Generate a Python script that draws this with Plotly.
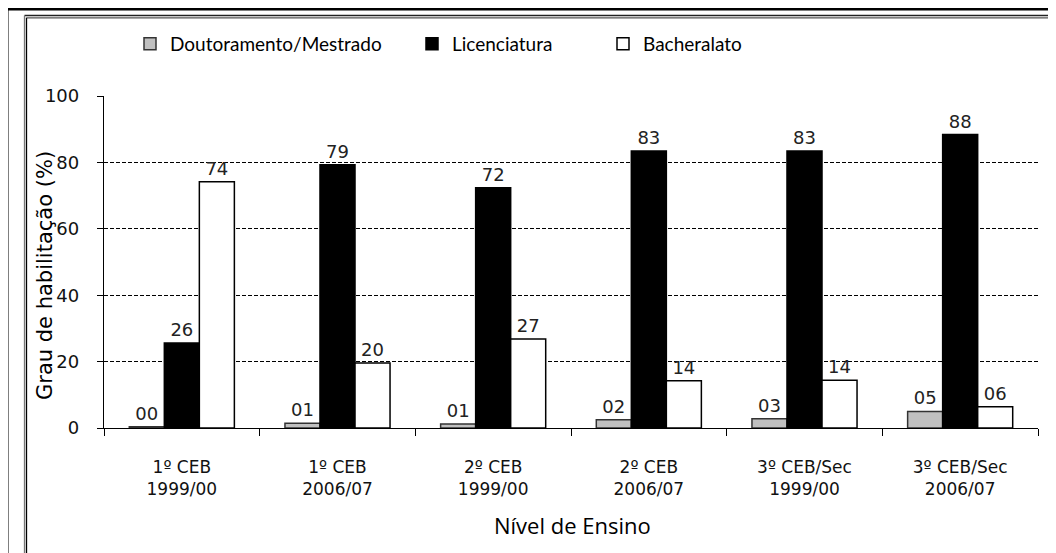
import plotly.graph_objects as go

categories = ["1º CEB<br>1999/00", "1º CEB<br>2006/07", "2º CEB<br>1999/00",
              "2º CEB<br>2006/07", "3º CEB/Sec<br>1999/00", "3º CEB/Sec<br>2006/07"]
doutoramento = [0.4, 1.4, 1.2, 2.45, 2.75, 5.0]
licenciatura = [25.6, 79.3, 72.4, 83.4, 83.4, 88.4]
bacharelato = [74.2, 19.6, 26.8, 14.2, 14.4, 6.4]
y_ticks = [0, 20, 40, 60, 80, 100]

OFF = 8  # browser body margin
W, H = 1056, 553
L, R, T, B = 104, 1038, 96, 428


def px(x):
    return (x - L) / (R - L)


def py(y):
    return (B - y) / (B - T)


label_font = dict(family="DejaVu Sans", size=18, color="#222")
line = dict(color="black", width=1.5)
legend_font = dict(family="Lato, Open Sans, sans-serif", size=19, color="black")

fig = go.Figure()
fig.add_trace(go.Bar(name="Doutoramento/Mestrado", x=categories, y=doutoramento,
                     marker=dict(color="#c0c0c0", line=dict(color="#333", width=1.5)),
                     texttemplate="%{y:02.0f}", textposition="outside",
                     textfont=label_font, cliponaxis=False, legend="legend"))
fig.add_trace(go.Bar(name="Licenciatura", x=categories, y=licenciatura,
                     marker=dict(color="black", line=line),
                     texttemplate="%{y:02.0f}", textposition="outside",
                     textfont=label_font, cliponaxis=False, legend="legend2"))
fig.add_trace(go.Bar(name="Bacheralato", x=categories, y=bacharelato,
                     marker=dict(color="white", line=line),
                     texttemplate="%{y:02.0f}", textposition="outside",
                     textfont=label_font, cliponaxis=False, legend="legend3"))

shapes = []
# outer thick border
shapes.append(dict(type="line", xref="paper", yref="paper", x0=px(7), x1=px(1070), y0=py(9), y1=py(9),
                   line=dict(color="black", width=3)))
shapes.append(dict(type="line", xref="paper", yref="paper", x0=px(7), x1=px(7), y0=py(9), y1=py(570),
                   line=dict(color="black", width=3)))
# inner double border
shapes.append(dict(type="line", xref="paper", yref="paper", x0=px(24.5), x1=px(1070), y0=py(15.5), y1=py(15.5),
                   line=dict(color="#222", width=1.3)))
shapes.append(dict(type="line", xref="paper", yref="paper", x0=px(26.5), x1=px(1070), y0=py(17.8), y1=py(17.8),
                   line=dict(color="#555", width=1.3)))
shapes.append(dict(type="line", xref="paper", yref="paper", x0=px(24.5), x1=px(24.5), y0=py(15.5), y1=py(570),
                   line=dict(color="#777", width=1.3)))
shapes.append(dict(type="line", xref="paper", yref="paper", x0=px(26.5), x1=px(26.5), y0=py(17.8), y1=py(570),
                   line=dict(color="black", width=1.3)))


def leg(xpix):
    return dict(orientation="h", x=px(xpix), y=py(44), xanchor="left", yanchor="middle",
                font=legend_font, itemwidth=30, bgcolor="rgba(0,0,0,0)", borderwidth=0)


fig.update_layout(
    width=W - OFF, height=H - OFF,
    margin=dict(l=L - OFF, r=W - R, t=T - OFF, b=H - B, autoexpand=False),
    paper_bgcolor="white", plot_bgcolor="white",
    barmode="group", bargap=0.325, bargroupgap=0,
    showlegend=True,
    legend=leg(130), legend2=leg(412), legend3=leg(603),
    xaxis=dict(showline=True, linecolor="black", linewidth=1.3, ticks="outside", tickson="boundaries",
               ticklen=7, tickcolor="black", tickwidth=1.3, ticklabelstandoff=23,
               tickfont=dict(family="DejaVu Sans", size=17, color="#111"), showgrid=False),
    yaxis=dict(range=[0, 100], tickvals=y_ticks, showline=True, linecolor="black", linewidth=1.3,
               ticks="outside", ticklen=6, tickcolor="black", tickwidth=1.3, ticklabelstandoff=14,
               tickfont=dict(family="DejaVu Sans", size=18, color="#111"),
               showgrid=True, gridcolor="black", gridwidth=1, griddash="4px,2px", zeroline=False),
    shapes=shapes,
    annotations=[
        dict(text="Grau de habilitação (%)", xref="paper", yref="paper", x=px(45), y=py(276),
             textangle=-90, showarrow=False, xanchor="center", yanchor="middle",
             font=dict(family="DejaVu Sans", size=21, color="black")),
        dict(text="Nível de Ensino", xref="paper", yref="paper", x=px(572), y=py(525),
             showarrow=False, xanchor="center", yanchor="middle",
             font=dict(family="Open Sans", size=22, color="black")),
    ],
)

fig.write_html("out.html")
